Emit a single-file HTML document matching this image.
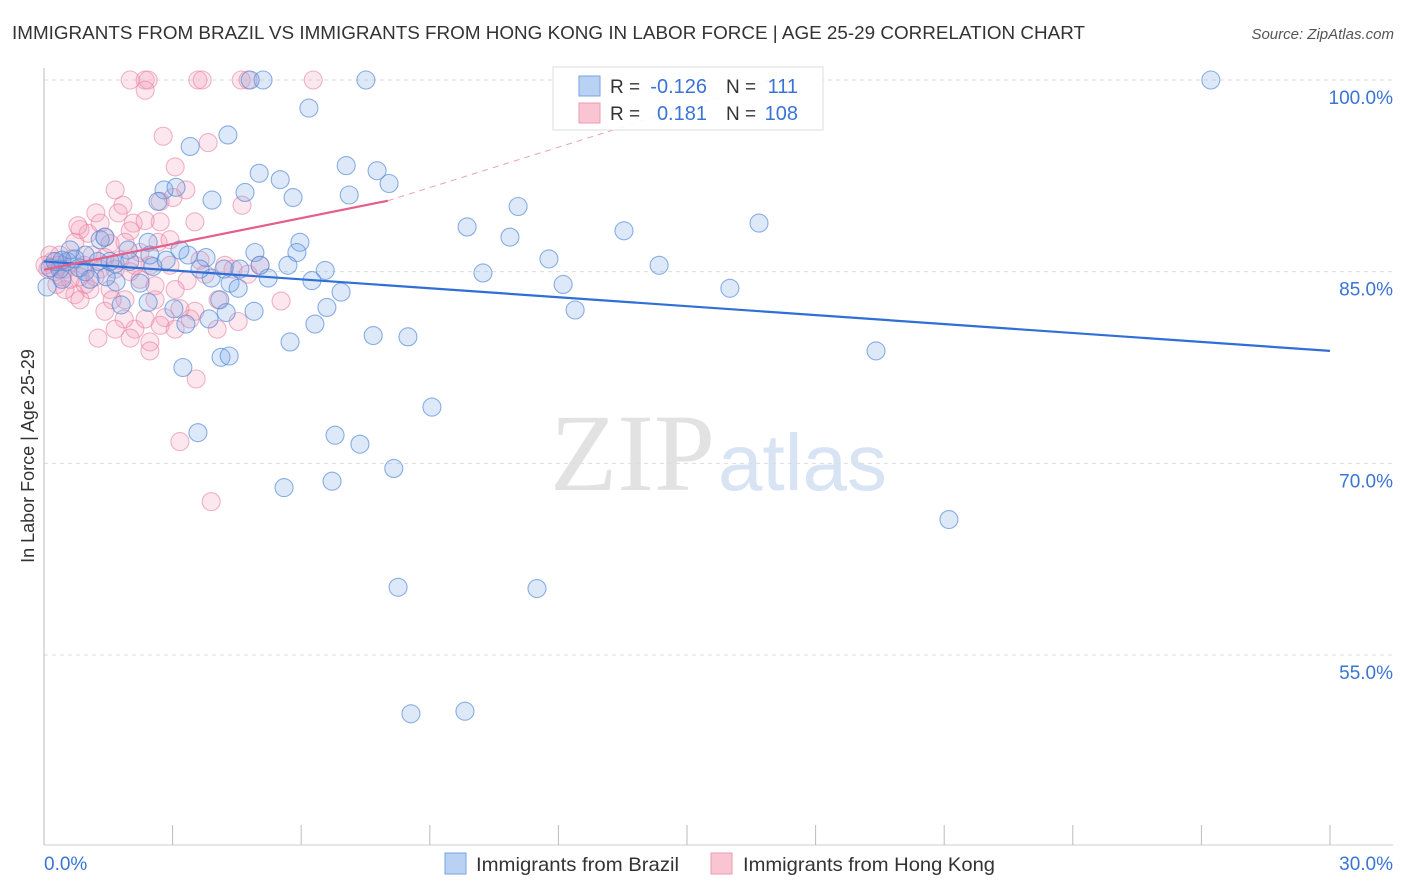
<!DOCTYPE html>
<html><head><meta charset="utf-8"><style>
body{margin:0;background:#fff;font-family:"Liberation Sans",sans-serif;}
#wrap{position:relative;width:1406px;height:892px;overflow:hidden;}
</style></head><body>
<div id="wrap">
<svg id="chart" width="1406" height="892">
<text x="12" y="39" font-size="18.5" fill="#333" textLength="1073" lengthAdjust="spacingAndGlyphs">IMMIGRANTS FROM BRAZIL VS IMMIGRANTS FROM HONG KONG IN LABOR FORCE | AGE 25-29 CORRELATION CHART</text>
<text x="1394" y="39" font-size="15" fill="#555" font-style="italic" text-anchor="end">Source: ZipAtlas.com</text>
<text x="715" y="490" font-size="110" fill="#e2e2e2" text-anchor="end" font-family="Liberation Serif,serif">ZIP</text>
<text x="718" y="490" font-size="80" fill="#d8e3f4">atlas</text>
<g id="grid"></g><g id="pts"></g><g id="trend"></g>
<text x="34" y="456" font-size="18" fill="#333" text-anchor="middle" transform="rotate(-90 34 456)">In Labor Force | Age 25-29</text>
<g>
<rect x="553" y="67" width="270" height="63" fill="#fff" fill-opacity="0.9" stroke="#ddd"/>
<rect x="579" y="76" width="21" height="20" fill="#b9d1f3" stroke="#7aa3e6"/>
<rect x="579" y="103" width="21" height="20" fill="#f9c5d3" stroke="#ec9ab3"/>
<text x="610" y="93" font-size="19" fill="#333">R = </text><text x="707" y="93" font-size="20" fill="#3a74d4" text-anchor="end">-0.126</text>
<text x="726" y="93" font-size="19" fill="#333">N = </text><text x="798" y="93" font-size="20" fill="#3a74d4" text-anchor="end">111</text>
<text x="610" y="120" font-size="19" fill="#333">R = </text><text x="707" y="120" font-size="20" fill="#3a74d4" text-anchor="end">0.181</text>
<text x="726" y="120" font-size="19" fill="#333">N = </text><text x="798" y="120" font-size="20" fill="#3a74d4" text-anchor="end">108</text>
</g>
<g>
<rect x="445" y="853" width="21" height="21" fill="#b9d1f3" stroke="#7aa3e6"/>
<text x="476" y="871" font-size="19.5" fill="#333" textLength="203" lengthAdjust="spacingAndGlyphs">Immigrants from Brazil</text>
<rect x="711" y="853" width="21" height="21" fill="#f9c5d3" stroke="#ec9ab3"/>
<text x="743" y="871" font-size="19.5" fill="#333" textLength="252" lengthAdjust="spacingAndGlyphs">Immigrants from Hong Kong</text>
</g>
</svg></div>
<script>
const yTicks=[100,85,70,55];
const yTickLabels=["100.0%","85.0%","70.0%","55.0%"];
const xTickLabels=["0.0%","30.0%"];
const blueX=[27.22,7.51,5.11,4.81,6.18,4.29,3.41,7.05,7.77,5.02,5.51,8.05,2.80,3.08,4.69,3.92,5.81,7.12,2.66,11.06,9.87,16.68,13.53,10.87,5.97,5.90,4.92,3.36,3.78,1.96,2.43,11.78,14.35,10.24,6.56,5.69,5.23,4.34,4.53,3.90,4.20,2.54,1.66,1.31,1.42,0.96,0.82,0.54,0.37,0.14,0.07,12.11,16.0,6.93,6.25,6.60,4.90,4.25,3.85,3.31,3.03,2.43,1.80,1.68,12.39,6.32,7.68,8.49,5.74,19.41,4.13,4.32,3.24,9.05,3.59,6.79,7.37,8.16,5.60,6.72,21.11,8.26,11.5,8.56,9.82,1.45,2.24,1.26,0.72,0.42,0.61,0.26,0.96,1.07,0.42,1.54,2.0,3.17,3.64,2.85,4.1,5.04,4.57,2.47];
const blueY=[100,100,100,100,97.8,95.7,94.8,93.3,92.9,92.7,92.2,91.9,91.4,91.6,91.2,90.6,90.8,91.0,90.5,90.1,88.5,88.8,88.2,87.7,87.3,86.5,86.5,86.3,86.1,86.7,87.3,86.0,85.5,84.9,85.1,85.5,84.5,84.1,83.7,84.5,85.2,85.4,85.6,87.5,87.7,86.3,85.3,85.8,85.2,85.3,83.8,84.0,83.7,83.4,84.3,82.2,81.9,81.8,81.3,80.9,82.1,82.6,82.4,84.2,82.0,80.9,80.0,79.9,79.5,78.8,78.3,78.4,77.5,74.4,72.4,72.2,71.5,69.6,68.1,68.6,65.6,60.3,60.2,50.4,50.6,84.6,84.1,85.8,86.0,85.9,86.7,85.8,85.0,84.4,84.4,85.8,85.8,86.7,85.2,85.9,82.8,85.5,85.2,86.3];
const pinkX=[2.01,2.36,2.43,3.59,3.69,4.60,4.76,6.28,2.36,2.78,3.83,3.06,3.31,3.01,4.62,1.84,1.66,1.21,2.08,2.71,3.52,0.84,0.72,1.54,1.42,2.66,1.77,1.31,2.01,2.94,3.34,4.41,5.04,4.76,3.76,2.24,1.07,0.72,0.49,0.30,0.96,1.54,1.89,2.59,2.82,3.06,2.71,2.12,1.42,0.84,1.26,2.01,2.47,2.47,3.52,4.06,4.04,4.53,5.53,3.41,3.17,3.55,3.90,0.37,0.19,0.09,0.14,0.26,0.33,0.02,0.51,0.61,0.93,1.12,1.66,2.24,1.03,1.31,1.73,2.01,2.94,2.47,3.64,4.22,1.59,1.87,0.65,0.42,0.79,1.42,0.84,1.19,1.89,2.36,2.59,3.17,1.66,2.36,3.06,2.71,2.12];
const pinkY=[100,100,100,100,100,100,100,100,99.2,95.6,95.1,93.2,91.4,90.8,90.2,90.2,91.4,89.6,88.8,88.9,88.9,88.3,87.3,87.2,86.1,87.3,85.9,85.2,85.0,85.5,84.3,85.2,85.5,84.8,84.8,84.4,83.6,83.2,83.6,84.0,84.0,83.6,82.8,82.8,81.4,80.5,80.8,80.5,81.9,82.8,79.8,79.8,79.5,78.8,81.9,82.8,80.5,81.1,82.7,81.3,71.7,76.6,67.0,86.3,85.8,85.2,86.3,85.0,85.5,85.5,85.2,84.4,85.5,86.3,85.2,86.5,88.0,88.8,89.6,88.2,87.5,85.5,85.9,85.5,82.8,81.3,86.0,84.6,88.6,87.7,84.6,84.6,87.3,89.0,83.9,82.1,80.5,81.3,83.6,90.5,85.5];
const blueTrend=[[0,85.8],[30,78.8]];
const pinkTrend=[[0,85.15],[8.02,90.55]];
const pinkDash=[[8.02,90.55],[17.0,100]];

const X0=44,X1=1330,YT=80,YB=655;
const xs=v=>X0+(v/30)*(X1-X0);
const ys=v=>YT+(100-v)/45*(YB-YT);
const NS="http://www.w3.org/2000/svg";
function mk(tag,attrs,parent){const e=document.createElementNS(NS,tag);for(const k in attrs)e.setAttribute(k,attrs[k]);parent.appendChild(e);return e;}
const grid=document.getElementById('grid');
yTicks.forEach((t,i)=>{
 const l=mk('line',{x1:X0,x2:1393,y1:ys(t),y2:ys(t),stroke:'#ddd','stroke-dasharray':'4,4'},grid);
 
 
 const tx=mk('text',{x:1393,y:ys(t)+24,'font-size':19,fill:'#3a74d4','text-anchor':'end'},grid);
 tx.textContent=yTickLabels[i];
 
 
});
const ax=mk('line',{x1:X0,x2:X0,y1:68,y2:845,stroke:'#bbb'},grid);


const bx=mk('line',{x1:X0,x2:1393,y1:845,y2:845,stroke:'#ccc'},grid);


for(let i=0;i<=10;i++){
 const x=xs(i*3);
 const t=mk('line',{x1:x,x2:x,y1:825,y2:845,stroke:'#bbb'},grid);
 
 
}
const xl0=mk('text',{x:44,y:870,'font-size':19,fill:'#3a74d4'},grid);xl0.textContent=xTickLabels[0];


const xl1=mk('text',{x:1393,y:870,'font-size':19,fill:'#3a74d4','text-anchor':'end'},grid);xl1.textContent=xTickLabels[1];


const pts=document.getElementById('pts');
pinkX.forEach((v,i)=>{
 const c=mk('circle',{cx:xs(v),cy:ys(pinkY[i]),r:9,fill:'rgba(244,160,188,0.25)',stroke:'rgba(232,130,162,0.6)','stroke-width':1.1},pts);
 
 
});
blueX.forEach((v,i)=>{
 const c=mk('circle',{cx:xs(v),cy:ys(blueY[i]),r:9,fill:'rgba(120,168,232,0.25)',stroke:'rgba(80,135,215,0.65)','stroke-width':1.1},pts);
 
 
});
const tr=document.getElementById('trend');
const bl=mk('line',{x1:xs(blueTrend[0][0]),y1:ys(blueTrend[0][1]),x2:xs(blueTrend[1][0]),y2:ys(blueTrend[1][1]),stroke:'#2f6fd6','stroke-width':2.2},tr);


const pl=mk('line',{x1:xs(pinkTrend[0][0]),y1:ys(pinkTrend[0][1]),x2:xs(pinkTrend[1][0]),y2:ys(pinkTrend[1][1]),stroke:'#e55f8b','stroke-width':2.2},tr);


const pd=mk('line',{x1:xs(pinkDash[0][0]),y1:ys(pinkDash[0][1]),x2:xs(pinkDash[1][0]),y2:ys(pinkDash[1][1]),stroke:'#eaa0b8','stroke-width':1,'stroke-dasharray':'6,5'},tr);


</script>
</body></html>
